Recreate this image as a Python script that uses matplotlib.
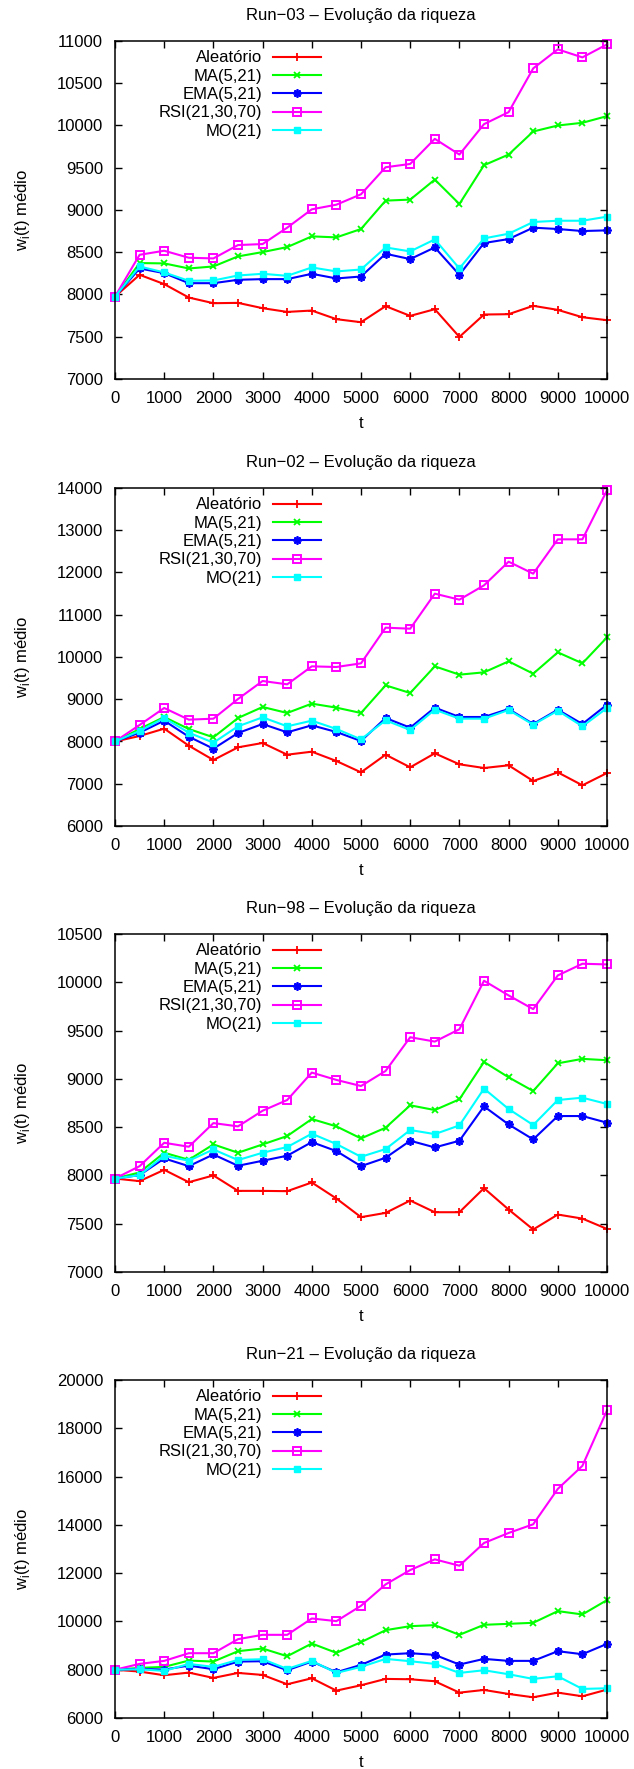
import matplotlib
matplotlib.use("Agg")
import matplotlib.pyplot as plt

plt.rcParams['font.family'] = ['Liberation Sans', 'DejaVu Sans']
plt.rcParams['mathtext.fontset'] = 'custom'
plt.rcParams['mathtext.rm'] = 'Liberation Sans'

t = [0, 500, 1000, 1500, 2000, 2500, 3000, 3500, 4000, 4500, 5000,
     5500, 6000, 6500, 7000, 7500, 8000, 8500, 9000, 9500, 10000]

series_names = ["Aleatório", "MA(5,21)", "EMA(5,21)", "RSI(21,30,70)", "MO(21)"]

# Run-03
run03_aleatorio = [7975, 8233, 8123, 7964, 7897, 7901, 7838, 7794, 7810, 7708, 7672,
                   7862, 7747, 7826, 7498, 7763, 7767, 7866, 7818, 7731, 7696]
run03_ma = [7975, 8372, 8368, 8308, 8332, 8451, 8502, 8561, 8688, 8676, 8775,
            9111, 9123, 9360, 9071, 9530, 9656, 9929, 10000, 10032, 10111]
run03_ema = [7975, 8308, 8253, 8134, 8134, 8174, 8182, 8182, 8245, 8190, 8213,
             8482, 8419, 8557, 8233, 8609, 8656, 8791, 8775, 8751, 8759]
run03_rsi = [7975, 8470, 8518, 8435, 8427, 8585, 8597, 8791, 9008, 9063, 9186,
             9506, 9545, 9842, 9656, 10016, 10158, 10676, 10901, 10806, 10960]
run03_mo = [7975, 8332, 8261, 8162, 8166, 8225, 8245, 8221, 8320, 8273, 8296,
            8557, 8510, 8652, 8308, 8664, 8719, 8858, 8873, 8873, 8921]

# Run-02
run02_aleatorio = [8000, 8130, 8304, 7901, 7562, 7862, 7965, 7688, 7759, 7538, 7270,
                   7688, 7389, 7720, 7460, 7373, 7436, 7065, 7270, 6963, 7254]
run02_ma = [8000, 8296, 8580, 8296, 8099, 8556, 8817, 8675, 8896, 8801, 8675,
            9329, 9148, 9779, 9582, 9637, 9897, 9605, 10110, 9850, 10465]
run02_ema = [8000, 8209, 8493, 8114, 7830, 8201, 8414, 8217, 8383, 8225, 8012,
             8556, 8327, 8801, 8580, 8580, 8769, 8414, 8753, 8414, 8872]
run02_rsi = [8000, 8391, 8793, 8517, 8540, 9006, 9432, 9353, 9779, 9763, 9850,
             10694, 10670, 11499, 11357, 11696, 12256, 11972, 12785, 12785, 13945]
run02_mo = [8000, 8249, 8556, 8209, 7972, 8359, 8572, 8359, 8493, 8296, 8051,
            8501, 8272, 8753, 8540, 8540, 8746, 8398, 8730, 8359, 8793]

# Run-98
run98_aleatorio = [7968, 7941, 8058, 7930, 8000, 7840, 7840, 7837, 7927, 7761, 7568,
                   7612, 7740, 7619, 7619, 7868, 7647, 7440, 7595, 7553, 7446]
run98_ma = [7968, 8031, 8235, 8162, 8321, 8235, 8321, 8408, 8584, 8508, 8383,
            8494, 8726, 8677, 8788, 9175, 9016, 8874, 9161, 9207, 9193]
run98_ema = [7968, 8003, 8176, 8096, 8217, 8100, 8152, 8204, 8345, 8252, 8096,
             8183, 8359, 8290, 8359, 8715, 8528, 8373, 8615, 8615, 8546]
run98_rsi = [7968, 8096, 8338, 8297, 8542, 8508, 8670, 8781, 9065, 8989, 8926,
             9082, 9431, 9386, 9514, 10016, 9864, 9722, 10071, 10192, 10185]
run98_mo = [7968, 8003, 8204, 8152, 8269, 8159, 8235, 8294, 8432, 8325, 8193,
            8273, 8470, 8428, 8518, 8899, 8688, 8522, 8781, 8805, 8740]

# Run-21
run21_aleatorio = [8000, 7923, 7771, 7881, 7660, 7867, 7784, 7397, 7646, 7134, 7356,
                   7619, 7605, 7522, 7051, 7162, 6996, 6858, 7051, 6899, 7176]
run21_ma = [8000, 8075, 8117, 8379, 8338, 8767, 8878, 8559, 9085, 8698, 9140,
            9638, 9804, 9846, 9445, 9860, 9901, 9943, 10427, 10289, 10883]
run21_ema = [8000, 8033, 8006, 8172, 8020, 8338, 8352, 7978, 8338, 7895, 8200,
             8628, 8684, 8615, 8214, 8449, 8366, 8366, 8767, 8642, 9071]
run21_rsi = [8000, 8241, 8366, 8684, 8684, 9265, 9445, 9445, 10122, 10012, 10648,
             11534, 12128, 12571, 12308, 13249, 13664, 14024, 15490, 16445, 18741]
run21_mo = [8000, 8020, 7950, 8241, 8117, 8407, 8435, 8033, 8366, 7867, 8117,
            8449, 8352, 8241, 7867, 7978, 7812, 7619, 7729, 7204, 7231]

runs = [
    ("Run−03 – Evolução da riqueza",
     [run03_aleatorio, run03_ma, run03_ema, run03_rsi, run03_mo], (7000, 11000, 500)),
    ("Run−02 – Evolução da riqueza",
     [run02_aleatorio, run02_ma, run02_ema, run02_rsi, run02_mo], (6000, 14000, 1000)),
    ("Run−98 – Evolução da riqueza",
     [run98_aleatorio, run98_ma, run98_ema, run98_rsi, run98_mo], (7000, 10500, 500)),
    ("Run−21 – Evolução da riqueza",
     [run21_aleatorio, run21_ma, run21_ema, run21_rsi, run21_mo], (6000, 20000, 2000)),
]

styles = [
    dict(color='#ff0000', marker='+', markersize=6, mew=1.3),
    dict(color='#00ff00', marker='x', markersize=5, mew=1.3),
    dict(color='#0000ff', marker=(8, 2, 0), markersize=6, mew=1.3),
    dict(color='#ff00ff', marker='s', markersize=5.5, mfc='none', mew=1.4),
    dict(color='#00ffff', marker='s', markersize=5),
]

FS = 12
W, H = 634, 1769
fig = plt.figure(figsize=(W / 100, H / 100), dpi=100)

ax_left, ax_right = 115, 607
ax_tops = [41, 488, 934, 1380]
ax_h = 338

for (title, data, (ylo, yhi, ystep)), top in zip(runs, ax_tops):
    ax = fig.add_axes([ax_left / W, 1 - (top + ax_h) / H,
                       (ax_right - ax_left) / W, ax_h / H])
    for name, vals, st in zip(series_names, data, styles):
        ax.plot(t, vals, label=name, lw=1.5, clip_on=False, **st)
    ax.set_xlim(0, 10000)
    ax.set_ylim(ylo, yhi)
    ax.set_xticks(list(range(0, 10001, 1000)))
    ax.set_yticks(list(range(ylo, yhi + 1, ystep)))
    ax.tick_params(direction='in', top=True, right=True, length=5, width=1,
                   labelsize=FS, pad=8.5)
    for sp in ax.spines.values():
        sp.set_linewidth(1.1)
    ax.set_title(title, fontsize=FS, pad=15)
    ax.set_xlabel("t", fontsize=FS, labelpad=7)
    ax.set_ylabel(r"w$_\mathregular{i}$(t) médio", fontsize=FS, labelpad=18)
    ax.legend(loc='upper right', bbox_to_anchor=(0.419, 0.972), frameon=False,
              markerfirst=False, numpoints=1, borderpad=0, borderaxespad=0,
              handlelength=2.9, handletextpad=0.65, labelspacing=0.2,
              fontsize=FS)

fig.savefig("out.png", dpi=100)
